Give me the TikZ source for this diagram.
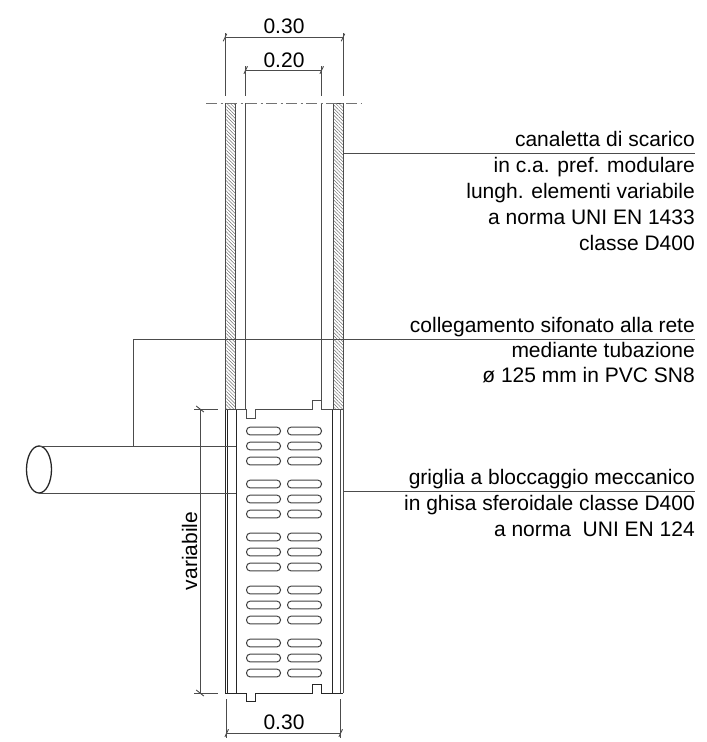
\documentclass[tikz,border=0pt]{standalone}
\usepackage{fontspec}
\setmainfont{Liberation Sans}
\usetikzlibrary{patterns.meta}

\tikzset{
	thin line/.style={line width=.9pt,black!70},
	thick line/.style={line width=1pt,black!85},
	hatched/.style={thin line,pattern={Lines[angle=-45,distance=2.4pt,line width=.5pt]},pattern color=black!55},
	slot/.style={line width=1pt,black!75,rounded corners=3.7pt},
	label/.style={inner sep=0pt,font=\fontsize{21}{26}\selectfont},
	note/.style={label,align=right,anchor=north east},
	tick/.pic={\draw[thin line] (-1.8,3.8) -- (1.8,-3.8);},
	vtick/.pic={\draw[thin line] (-3.8,-3) -- (3.8,3);}
}

\begin{document}
\begin{tikzpicture}[x=1pt,y=-1pt]

\useasboundingbox (0,0) rectangle (707,742);

% upper channel
\draw[hatched] (225,103) rectangle (235,409);
\draw[hatched] (333,103) rectangle (343,409);
\draw[thin line] (245.7,103) -- (245.7,409);
\draw[thin line] (321.7,103) -- (321.7,400);
\draw[black!55,line width=.9pt,dash pattern=on 11pt off 3.5pt on 2pt off 3.5pt] (206,103) -- (362,103);

% grating
\draw[thick line] (225,409) -- (225,693) (227.5,409) -- (227.5,693);
\draw[thin line] (343,409) -- (343,693) (340.5,409) -- (340.5,693);
\draw[thick line] (236,409) -- (236,693) (332,409) -- (332,693);
\draw[thin line] (225,409) -- (246.7,409) -- (246.7,418) -- (255.7,418) -- (255.7,409) -- (312,409) -- (312,400.5) -- (321,400.5) -- (321,409) -- (343,409);
\draw[thick line] (225,693) -- (246.7,693) -- (246.7,701.7) -- (255.7,701.7) -- (255.7,693) -- (312,693) -- (312,684.5) -- (321,684.5) -- (321,693) -- (343,693);

\foreach \y in {431,484,537,590,643}
	\foreach \d in {0,15,30}{
		\draw[slot] (246.5,\y+\d-3.9) rectangle (280.5,\y+\d+3.9);
		\draw[slot] (287.5,\y+\d-3.9) rectangle (321.5,\y+\d+3.9);
	}

% pipe
\draw[thick line,line width=1.3pt] (39,469.5) ellipse (12.5 and 23.5);
\draw[thin line] (39,446) -- (236,446);
\draw[thin line] (39,493) -- (236,493);

% dimensions
\node[label] (top) at (284,26) {0.30};
\node[label] (inner) at (284,60) {0.20};
\node[label] (bottom) at (284,722) {0.30};
\node[label,rotate=90] (variable) at (189.5,551) {variabile};

\draw[thin line] (225,33) -- (225,96);
\draw[thin line] (343,33) -- (343,96);
\draw[thin line] (225,37.5) -- (343,37.5);
\pic at (225,37.5) {tick};
\pic at (343,37.5) {tick};

\draw[thin line] (245.7,66) -- (245.7,96);
\draw[thin line] (321.7,66) -- (321.7,96);
\draw[thin line] (245.7,70) -- (321.7,70);
\pic at (245.7,70) {tick};
\pic at (321.7,70) {tick};

\draw[thin line] (226.7,699) -- (226.7,738);
\draw[thin line] (340.7,699) -- (340.7,738);
\draw[thin line] (226.7,733) -- (340.7,733);
\pic at (226.7,733) {tick};
\pic at (340.7,733) {tick};

\draw[thin line] (194,409) -- (218,409);
\draw[thin line] (194,693) -- (218,693);
\draw[thin line] (200,409) -- (200,693);
\pic at (200,409) {vtick};
\pic at (200,693) {vtick};

% notes
\node[note] (channel) at (695,131) {canaletta di scarico\\in c.a. pref. modulare\\lungh. elementi variabile\\a norma UNI EN 1433\\classe D400};
\node[note] (siphon) at (695,317) {collegamento sifonato alla rete\\[-1pt]mediante tubazione\\[-1pt]ø 125 mm in PVC SN8};
\node[note] (grid) at (695,469) {griglia a bloccaggio meccanico\\in ghisa sferoidale classe D400\\a norma \ UNI EN 124};

\coordinate (channel wall) at (343,153.5);
\coordinate (pipe top) at (133.5,446);
\coordinate (siphon bend) at (133.5,339);
\coordinate (grid wall) at (343,491);

\draw[thin line] (channel wall) -- (channel wall -| channel.east);
\draw[thin line] (pipe top) -- (siphon bend) -- (siphon bend -| siphon.east);
\draw[thin line] (grid wall) -- (grid wall -| grid.east);

\end{tikzpicture}
\end{document}
